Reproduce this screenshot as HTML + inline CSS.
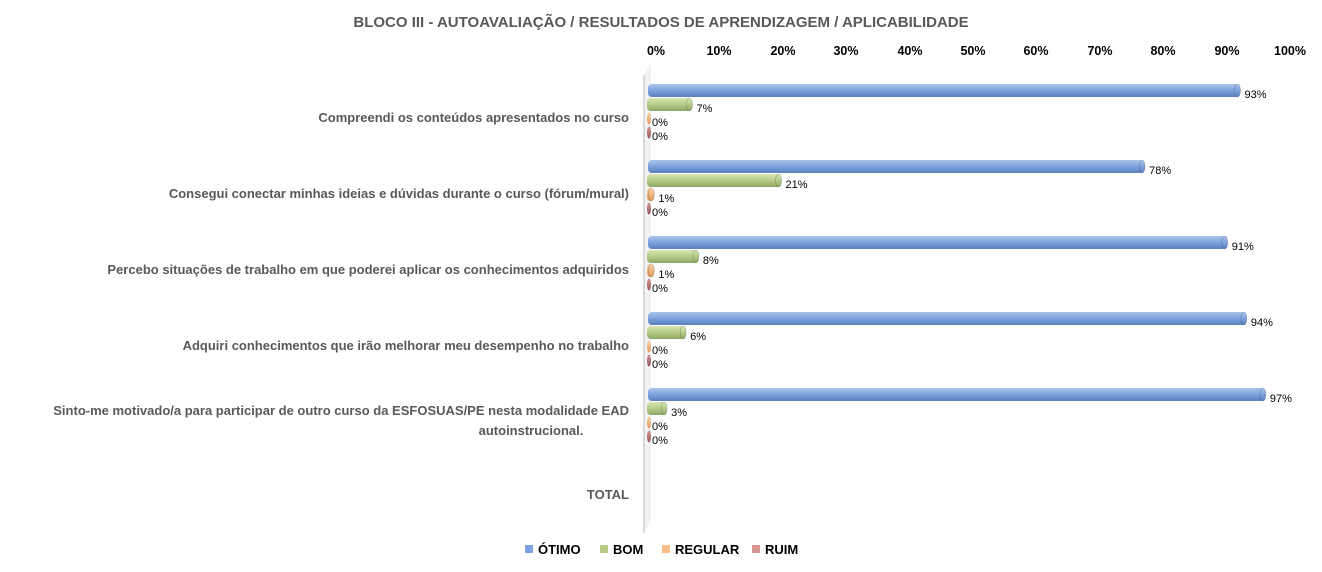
<!DOCTYPE html>
<html><head><meta charset="utf-8"><style>
body{margin:0;background:#fff;}
svg{display:block;font-family:"Liberation Sans",sans-serif;}
.c{font-weight:bold;font-size:13px;fill:#595959;text-anchor:end;}
.v{font-size:11px;fill:#000;}
.t{font-weight:bold;font-size:12.5px;fill:#000;text-anchor:middle;}
</style></head><body>
<svg width="1322" height="572" viewBox="0 0 1322 572">
<defs>
<linearGradient id="gb" x1="0" y1="0" x2="0" y2="1"><stop offset="0" stop-color="#a9c4ec"/><stop offset=".5" stop-color="#7ea2dd"/><stop offset="1" stop-color="#5a7fbf"/></linearGradient>
<linearGradient id="gg" x1="0" y1="0" x2="0" y2="1"><stop offset="0" stop-color="#d7e6b4"/><stop offset=".5" stop-color="#b5cc88"/><stop offset="1" stop-color="#8ea765"/></linearGradient>
<linearGradient id="go" x1="0" y1="0" x2="0" y2="1"><stop offset="0" stop-color="#fcd2a8"/><stop offset="1" stop-color="#e09a5e"/></linearGradient>
<linearGradient id="gr" x1="0" y1="0" x2="0" y2="1"><stop offset="0" stop-color="#c99"/><stop offset="1" stop-color="#955"/></linearGradient>
</defs>
<text x="661" y="27" style="font-weight:bold;font-size:15px;fill:#595959" text-anchor="middle">BLOCO III - AUTOAVALIAÇÃO / RESULTADOS DE APRENDIZAGEM / APLICABILIDADE</text>
<g class="t">
<text x="656" y="55">0%</text><text x="719" y="55">10%</text><text x="783" y="55">20%</text><text x="846" y="55">30%</text><text x="910" y="55">40%</text><text x="973" y="55">50%</text><text x="1036" y="55">60%</text><text x="1100" y="55">70%</text><text x="1163" y="55">80%</text><text x="1227" y="55">90%</text><text x="1290" y="55">100%</text>
</g>
<path d="M644 75 L651 62 L651 520 L644 533 Z" fill="#f2f2f2"/>
<line x1="644" y1="75" x2="644" y2="533" stroke="#d0d0d0" stroke-width="1.5"/>
<g id="bars"></g>
<g class="c">
<text x="629" y="122">Compreendi os conteúdos apresentados no curso</text>
<text x="629" y="198">Consegui conectar minhas ideias e dúvidas durante o curso (fórum/mural)</text>
<text x="629" y="274">Percebo situações de trabalho em que poderei aplicar os conhecimentos adquiridos</text>
<text x="629" y="350">Adquiri conhecimentos que irão melhorar meu desempenho no trabalho</text>
<text x="629" y="415">Sinto-me motivado/a para participar de outro curso da ESFOSUAS/PE nesta modalidade EAD</text>
<text x="531" y="435" text-anchor="middle">autoinstrucional.</text>
<text x="629" y="499">TOTAL</text>
</g>
<g style="font-weight:bold;font-size:13px;fill:#000">
<rect x="525" y="545" width="8" height="8" fill="#7ea2dd"/><text x="538" y="554">ÓTIMO</text>
<rect x="600" y="545" width="8" height="8" fill="#b5cc88"/><text x="613" y="554">BOM</text>
<rect x="662" y="545" width="8" height="8" fill="#fbbd8a"/><text x="675" y="554">REGULAR</text>
<rect x="752" y="545" width="8" height="8" fill="#d99594"/><text x="765" y="554">RUIM</text>
</g>
</svg>
<script>
(function(){
var data=[[93,7,0,0],[78,21,1,0],[91,8,1,0],[94,6,0,0],[97,3,0,0]];
var fills=["url(#gb)","url(#gg)","url(#go)","url(#gr)"];
var s="";
for(var i=0;i<5;i++){var gt=84+76*i;
for(var j=0;j<4;j++){var y=gt+14*j,v=data[i][j],w=v*6.36;var x0=648-(j>0?1:0);
if(v>0){s+='<rect x="'+x0+'" y="'+y+'" width="'+w+'" height="13" rx="4" fill="'+fills[j]+'"/>';
s+='<ellipse cx="'+(x0+w-2)+'" cy="'+(y+6.5)+'" rx="3" ry="6.5" fill="'+fills[j]+'" stroke="rgba(0,0,0,.25)" stroke-width=".6"/>';}
else{s+='<ellipse cx="'+(x0+2)+'" cy="'+(y+6.5)+'" rx="2" ry="6" fill="'+fills[j]+'"/>';}
s+='<text class="v" x="'+(x0+w+5)+'" y="'+(y+14)+'">'+v+'%</text>';}}
document.getElementById("bars").innerHTML=s;
})();
</script>
</body></html>
